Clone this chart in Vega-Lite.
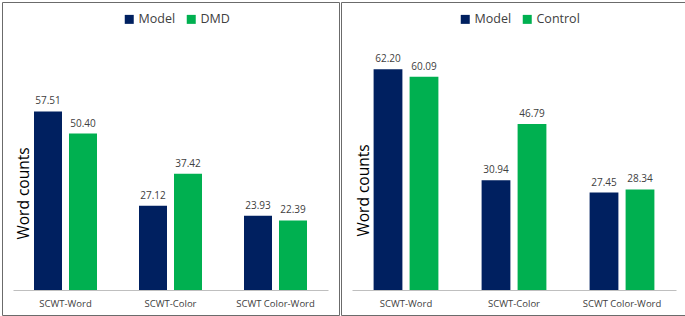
{
  "$schema": "https://vega.github.io/schema/vega-lite/v6.json",
  "padding": {"left": 1, "top": 1, "right": 1, "bottom": 1},
  "spacing": 0,
  "config": {
    "font": "Open Sans",
    "view": {"stroke": "#6b6b6b", "strokeWidth": 1},
    "concat": {"spacing": 0}
  },
  "resolve": {
    "scale": {"color": "independent", "y": "independent", "x": "independent", "xOffset": "independent"},
    "legend": {"color": "independent"}
  },
  "hconcat": [
    {
      "width": 337,
      "height": 313,
      "data": {"values": [
        {"test": "SCWT-Word", "group": "Model", "value": 57.51},
        {"test": "SCWT-Word", "group": "DMD", "value": 50.40},
        {"test": "SCWT-Color", "group": "Model", "value": 27.12},
        {"test": "SCWT-Color", "group": "DMD", "value": 37.42},
        {"test": "SCWT Color-Word", "group": "Model", "value": 23.93},
        {"test": "SCWT Color-Word", "group": "DMD", "value": 22.39}
      ]},
      "encoding": {
        "x": {"field": "test", "type": "nominal", "sort": ["SCWT-Word", "SCWT-Color", "SCWT Color-Word"],
          "scale": {"range": [11, 326], "paddingInner": 0.4, "paddingOuter": 0.2},
          "axis": {"title": null, "orient": "bottom", "offset": -25, "ticks": false, "labelAngle": 0, "labelFontSize": 9.5, "labelColor": "#404040", "labelPadding": 8, "domainColor": "#bfbfbf", "domainWidth": 1}},
        "xOffset": {"field": "group", "type": "nominal", "sort": ["Model", "DMD"], "scale": {"paddingInner": 0.2, "paddingOuter": 0}},
        "y": {"field": "value", "type": "quantitative",
          "scale": {"domain": [-8.05, 92.75], "nice": false, "zero": false},
          "axis": {"title": "Word counts", "labels": false, "ticks": false, "domain": false, "grid": false, "titleX": 21, "titleY": 191, "titleAngle": 270, "titleAlign": "center", "titleBaseline": "middle", "titleFontSize": 15.5, "titleFontWeight": "normal", "titleColor": "#000000"}}
      },
      "layer": [
        {"mark": {"type": "bar"},
         "encoding": {
           "y2": {"datum": 0},
           "color": {"field": "group", "type": "nominal", "sort": ["Model", "DMD"],
             "scale": {"domain": ["Model", "DMD"], "range": ["#002060", "#00b050"]},
             "legend": {"orient": "none", "legendX": 121, "legendY": 11, "direction": "horizontal", "title": null, "symbolType": "square", "symbolSize": 81, "symbolStrokeWidth": 0, "labelFontSize": 12.5, "labelColor": "#404040", "columnPadding": 9, "labelOffset": 3}}
         }},
        {"mark": {"type": "text", "baseline": "bottom", "dy": -5, "fontSize": 10, "color": "#404040"},
         "encoding": {"text": {"field": "value", "type": "quantitative", "format": ".2f"}}}
      ]
    },
    {
      "width": 346,
      "height": 313,
      "data": {"values": [
        {"test": "SCWT-Word", "group": "Model", "value": 62.20},
        {"test": "SCWT-Word", "group": "Control", "value": 60.09},
        {"test": "SCWT-Color", "group": "Model", "value": 30.94},
        {"test": "SCWT-Color", "group": "Control", "value": 46.79},
        {"test": "SCWT Color-Word", "group": "Model", "value": 27.45},
        {"test": "SCWT Color-Word", "group": "Control", "value": 28.34}
      ]},
      "encoding": {
        "x": {"field": "test", "type": "nominal", "sort": ["SCWT-Word", "SCWT-Color", "SCWT Color-Word"],
          "scale": {"range": [11, 335], "paddingInner": 0.4, "paddingOuter": 0.2},
          "axis": {"title": null, "orient": "bottom", "offset": -25, "ticks": false, "labelAngle": 0, "labelFontSize": 9.5, "labelColor": "#404040", "labelPadding": 8, "domainColor": "#bfbfbf", "domainWidth": 1}},
        "xOffset": {"field": "group", "type": "nominal", "sort": ["Model", "Control"], "scale": {"paddingInner": 0.2, "paddingOuter": 0}},
        "y": {"field": "value", "type": "quantitative",
          "scale": {"domain": [-7.04, 81.13], "nice": false, "zero": false},
          "axis": {"title": "Word counts", "labels": false, "ticks": false, "domain": false, "grid": false, "titleX": 22, "titleY": 188, "titleAngle": 270, "titleAlign": "center", "titleBaseline": "middle", "titleFontSize": 15.5, "titleFontWeight": "normal", "titleColor": "#000000"}}
      },
      "layer": [
        {"mark": {"type": "bar"},
         "encoding": {
           "y2": {"datum": 0},
           "color": {"field": "group", "type": "nominal", "sort": ["Model", "Control"],
             "scale": {"domain": ["Model", "Control"], "range": ["#002060", "#00b050"]},
             "legend": {"orient": "none", "legendX": 118, "legendY": 11, "direction": "horizontal", "title": null, "symbolType": "square", "symbolSize": 81, "symbolStrokeWidth": 0, "labelFontSize": 12.5, "labelColor": "#404040", "columnPadding": 9, "labelOffset": 3}}
         }},
        {"mark": {"type": "text", "baseline": "bottom", "dy": -5, "fontSize": 10, "color": "#404040"},
         "encoding": {"text": {"field": "value", "type": "quantitative", "format": ".2f"}}}
      ]
    }
  ]
}
